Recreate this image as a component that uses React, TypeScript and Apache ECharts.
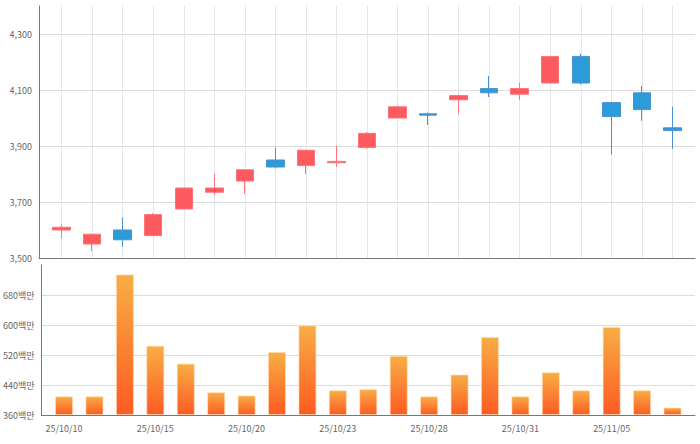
import React, { useEffect, useRef } from 'react';
import * as echarts from 'echarts';

const dates = ['25/10/10','25/10/13','25/10/14','25/10/15','25/10/16','25/10/17','25/10/20','25/10/21','25/10/22','25/10/23','25/10/24','25/10/27','25/10/28','25/10/29','25/10/30','25/10/31','25/11/03','25/11/04','25/11/05','25/11/06','25/11/07'];
const opens = [3600,3550,3600,3580,3675,3735,3775,3850,3830,3840,3895,4000,4015,4065,4105,4085,4125,4220,4055,4090,3965];
const closes = [3610,3585,3565,3655,3750,3750,3815,3825,3885,3845,3945,4040,4010,4080,4090,4105,4220,4125,4005,4030,3955];
const lows = [3570,3525,3540,3580,3675,3725,3730,3820,3800,3825,3890,4000,3975,4015,4075,4065,4125,4120,3870,3990,3890];
const highs = [3620,3585,3645,3660,3750,3800,3815,3895,3885,3900,3950,4045,4020,4085,4150,4125,4220,4230,4055,4115,4040];
// trading value in 백만 (millions)
const volumes = [410,410,735,545,497,421,412,528,599,426,429,518,410,468,568,410,474,426,595,426,380];
const labelIndices = [0,3,6,9,12,15,18];
const priceMin = 3500, priceMax = 4400, priceStep = 200;
const volBase = 360, volTop = 760, volStep = 80;

export default function App() {
  const ref = useRef<HTMLDivElement>(null);
  useEffect(() => {
    if (!ref.current) return;
    const chart = echarts.init(ref.current, null, { renderer: 'svg' });
    const n = dates.length;
    const pad = 0.74;
    const idx = dates.map((_, i) => i);
    const font = "'Noto Sans CJK KR', 'Noto Sans', sans-serif";
    const candleData = idx.map(i => [i, opens[i], closes[i], lows[i], highs[i]]);
    const volData = idx.map(i => [i, volumes[i] - volBase]);
    chart.setOption({
      animation: false,
      backgroundColor: '#ffffff',
      grid: [
        { left: 39, right: 5, top: 6, height: 252 },
        { left: 39, right: 5, top: 265, height: 150 },
      ],
      xAxis: [
        {
          type: 'value', gridIndex: 0, min: -pad, max: n - 1 + pad,
          axisLine: { show: true, onZero: false, lineStyle: { color: '#777', width: 1 } },
          axisTick: { show: false, customValues: idx },
          axisLabel: { show: false, customValues: idx },
          splitLine: { show: true, lineStyle: { color: '#e6e6e6', width: 1 } },
        },
        {
          type: 'value', gridIndex: 1, min: -pad, max: n - 1 + pad,
          axisLine: { show: true, onZero: false, lineStyle: { color: '#777', width: 1 } },
          axisTick: { show: false, customValues: labelIndices },
          axisLabel: {
            show: true, customValues: labelIndices, margin: 9,
            color: '#666', fontSize: 9, fontFamily: font,
            formatter: (v: number) => dates[Math.round(v)] ?? '',
          },
          splitLine: { show: false },
        },
      ],
      yAxis: [
        {
          type: 'value', gridIndex: 0, min: priceMin, max: priceMax, interval: priceStep,
          axisLine: { show: true, onZero: false, lineStyle: { color: '#777', width: 1 } },
          axisTick: { show: false },
          axisLabel: {
            color: '#666', fontSize: 9, fontFamily: font, margin: 7, showMaxLabel: false,
            formatter: (v: number) => v.toLocaleString('en-US'),
          },
          splitLine: { show: true, showMaxLine: false, lineStyle: { color: '#dcdcdc', width: 1 } },
        },
        {
          type: 'value', gridIndex: 1, min: 0, max: volTop - volBase, interval: volStep,
          axisLine: { show: true, onZero: false, lineStyle: { color: '#777', width: 1 } },
          axisTick: { show: false },
          axisLabel: {
            color: '#666', fontSize: 9, fontFamily: font, margin: 7, showMaxLabel: false,
            formatter: (v: number) => (v + volBase) + '백만',
          },
          splitLine: { show: true, showMaxLine: false, showMinLine: false, lineStyle: { color: '#dcdcdc', width: 1 } },
        },
      ],
      series: [
        {
          type: 'candlestick', xAxisIndex: 0, yAxisIndex: 0,
          encode: { x: 0, y: [1, 2, 3, 4] },
          barWidth: 18,
          data: candleData,
          itemStyle: {
            color: '#fd5a60', color0: '#2b9cd8',
            borderColor: '#fc7378', borderColor0: '#4a90d4', borderWidth: 1,
          },
        },
        {
          type: 'bar', xAxisIndex: 1, yAxisIndex: 1,
          barWidth: 18,
          data: volData,
          itemStyle: {
            color: new echarts.graphic.LinearGradient(0, 0, 0, 1, [
              { offset: 0, color: '#f8ad44' },
              { offset: 1, color: '#fd5b22' },
            ]),
            borderColor: 'rgba(255,220,180,0.6)', borderWidth: 1,
          },
        },
      ],
    });
    return () => chart.dispose();
  }, []);
  return <div ref={ref} style={{ position: 'absolute', left: 0, top: 0, width: 700, height: 444 }} />;
}
